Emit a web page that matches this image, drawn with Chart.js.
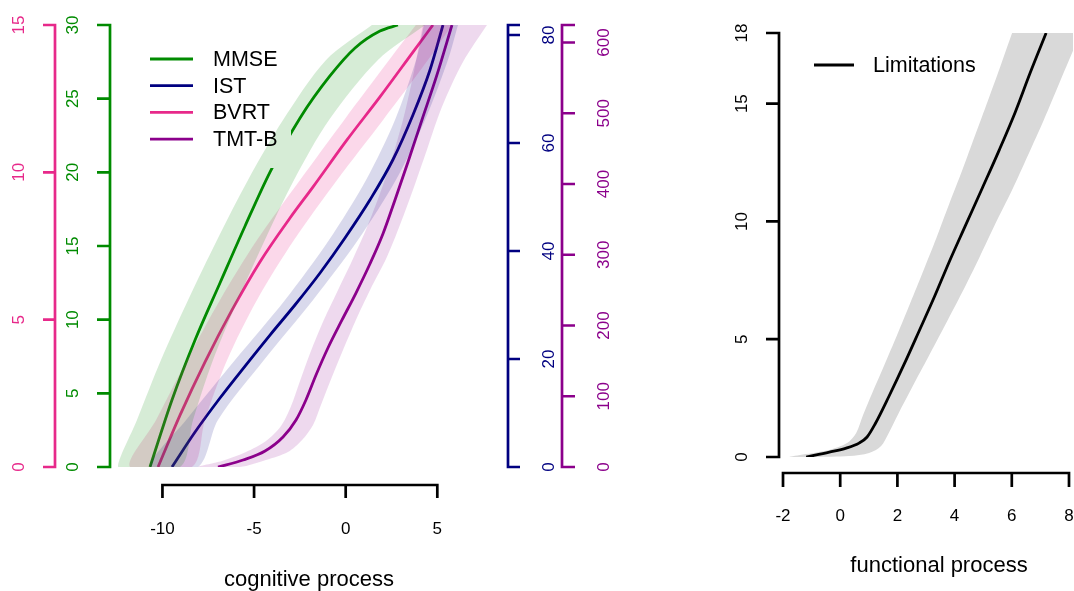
<!DOCTYPE html>
<html>
<head>
<meta charset="utf-8">
<script src="https://cdn.jsdelivr.net/npm/chart.js@4.4.1/dist/chart.umd.min.js"></script>
<style>
  html, body { margin: 0; padding: 0; background: #fff; overflow: hidden; }
  #cogBox { position: absolute; left: 0; top: 0; width: 620px; height: 591px; }
  #funBox { position: absolute; left: 620px; top: 0; width: 454px; height: 591px; }
</style>
</head>
<body>
<div id="cogBox"><canvas id="cogChart"></canvas></div>
<div id="funBox"><canvas id="funChart"></canvas></div>
<script>
// ---- left panel: latent cognitive process vs. test scores ----
const cogRange = [-12.48, 7.93];
const xTicksCog = [-10, -5, 0, 5];
const bvrtTicks = [0, 5, 10, 15];
const mmseTicks = [0, 5, 10, 15, 20, 25, 30];
const istTicks = [0, 20, 40, 60, 80];
const tmtTicks = [0, 100, 200, 300, 400, 500, 600];
const bvrtMax = 15, mmseMax = 30, istMax = 81.85, tmtMax = 624.7;

const mmseX = [-10.68, -9.48, -8.22, -6.86, -5.49, -4.13, -2.49, -0.86, 0.51, 1.87, 2.85];
const mmseY = [0, 4.55, 8.62, 12.49, 16.36, 20.02, 23.69, 26.54, 28.44, 29.59, 30];
const mmseBandY = [0, 3.19, 7.26, 11.33, 15.41, 19.48, 23.55, 27.63, 30];
const mmseBandLeft = [-12.42, -11.39, -10.08, -8.60, -7.02, -5.33, -3.42, -1.07, 1.43];
const mmseBandRight = [-9.04, -8.33, -7.24, -5.88, -4.41, -2.82, -0.91, 1.76, 4.33];

const istX = [-9.48, -8.22, -6.86, -5.49, -4.13, -2.77, -1.40, -0.04, 1.32, 2.57, 3.67, 4.6, 5.31];
const istY = [0, 6.48, 12.78, 18.70, 24.44, 30.0, 35.93, 42.41, 49.44, 56.85, 65.19, 73.52, 81.85];
const istBandY = [0, 8.70, 19.81, 30.93, 42.04, 53.15, 64.26, 75.37, 81.85];
const istBandLeft = [-10.68, -8.71, -6.04, -3.31, -0.91, 1.11, 2.69, 3.84, 4.27];
const istBandRight = [-8.06, -6.97, -4.46, -1.78, 0.67, 2.74, 4.33, 5.58, 6.13];

const bvrtX = [-10.24, -9.04, -7.68, -6.2, -4.68, -3.04, -1.79, 0.07, 1.87, 3.67, 4.76];
const bvrtY = [0, 1.76, 3.56, 5.33, 6.96, 8.45, 9.50, 11.1, 12.56, 14.08, 15.0];
const bvrtBandY = [0, 1.595, 3.63, 5.67, 7.70, 9.74, 11.77, 13.81, 15];
const bvrtBandLeft = [-11.77, -10.35, -8.66, -6.86, -4.84, -2.49, -0.09, 2.37, 3.83];
const bvrtBandRight = [-8.39, -7.68, -6.47, -4.84, -2.82, -0.47, 2.03, 4.49, 5.80];

const tmtX = [-6.97, -5.60, -4.40, -3.42, -2.71, -2.17, -1.62, -0.97, -0.20, 0.56, 1.32, 2.03, 2.69, 3.40, 4.16, 4.98, 5.80];
const tmtY = [0, 9.9, 22.6, 42.4, 66.4, 94.7, 130.0, 168.2, 207.8, 245.9, 286.9, 329.3, 377.4, 431.1, 490.5, 554.1, 624.7];
const tmtBandLeftX = [-8.06, -6.75, -5.44, -4.35, -3.53, -2.98, -2.55, -2.0, -1.29, -0.47, 0.34, 1.10, 1.82, 2.53, 3.18, 3.72, 4.21];
const tmtBandLeftY = [0, 8.5, 21.2, 36.7, 57.9, 86.2, 117.3, 156.9, 202.1, 247.3, 291.2, 335.0, 383.0, 436.7, 496.1, 558.3, 624.7];
const tmtBandRightX = [-5.77, -4.35, -3.15, -2.38, -1.78, -1.35, -0.86, -0.26, 0.51, 1.33, 2.25, 2.96, 3.67, 4.43, 5.25, 6.40, 7.71];
const tmtBandRightY = [0, 9.9, 21.2, 38.2, 59.4, 87.6, 120.1, 158.3, 205.0, 250.2, 296.8, 342.0, 391.5, 448.1, 508.8, 572.4, 624.7];

// ---- right panel: functional process vs. limitations ----
const funRange = [-2.21, 8.14];
const xTicksFun = [-2, 0, 2, 4, 6, 8];
const limTicks = [0, 5, 10, 15, 18];
const limMax = 18;
const limX = [-1.19, -0.38, 0.21, 0.66, 0.94, 1.22, 1.71, 2.24, 2.76, 3.29, 3.81, 4.37, 4.97, 5.56, 6.12, 6.64, 7.2];
const limY = [0, 0.21, 0.38, 0.59, 0.85, 1.4, 2.59, 3.95, 5.35, 6.79, 8.28, 9.8, 11.42, 13.03, 14.64, 16.3, 18.0];
const limBandLeftX = [-1.78, -0.38, 0.24, 0.56, 0.80, 1.12, 1.54, 1.99, 2.45, 2.90, 3.36, 3.81, 4.27, 4.72, 5.17, 5.59, 6.01];
const limBandLeftY = [0, 0.3, 0.59, 1.02, 1.78, 2.72, 3.9, 5.18, 6.54, 7.89, 9.29, 10.74, 12.18, 13.67, 15.15, 16.55, 18.0];
const limBandRightX = [-0.91, 0.31, 1.01, 1.43, 1.68, 2.03, 2.52, 3.08, 3.67, 4.27, 4.86, 5.42, 6.01, 6.57, 7.13, 7.66, 8.18, 8.71];
const limBandRightY = [0, 0.04, 0.17, 0.47, 0.98, 1.83, 2.97, 4.24, 5.6, 7.0, 8.45, 9.89, 11.33, 12.82, 14.34, 15.87, 17.36, 18.85];

const FONT = '"Liberation Sans", Arial, Helvetica, sans-serif';
const colors = {mmse: '#008B00', ist: '#000080', bvrt: '#E7298A', tmt: '#8B008B'};
const fills = {
    mmse: 'rgba(0,139,0,0.16)',
    ist: 'rgba(0,0,128,0.15)',
    bvrt: 'rgba(231,41,138,0.18)',
    tmt: 'rgba(139,0,139,0.15)'
};

function pts(xs, ys) {
    return xs.map((x, i) => ({x, y: ys[i]}));
}

// closed outline: down the right edge, back up the left edge;
// the closing segment runs along the top so it stays straight
function bandShape(lx, ly, rx, ry) {
    return pts(rx, ry).reverse().concat(pts(lx, ly));
}

function lineSet(data, color, axis) {
    return {
        data, yAxisID: axis, borderColor: color, borderWidth: 2.8,
        pointRadius: 0, fill: false, cubicInterpolationMode: 'monotone', order: 2
    };
}

function bandSet(data, color, axis) {
    return {
        data, yAxisID: axis, borderColor: 'rgba(0,0,0,0)', borderWidth: 0.01,
        backgroundColor: color, pointRadius: 0, fill: 'shape', tension: 0.3, order: 1
    };
}

// R-like axis drawing on top of the hidden Chart.js scales
function drawYAxis(chart, a) {
    const ctx = chart.ctx;
    const scale = chart.scales[a.scale];
    const all = a.ticks.concat(a.extra || []);
    const ys = all.map(v => scale.getPixelForValue(v));
    ctx.save();
    ctx.strokeStyle = a.color;
    ctx.lineWidth = 2.7;
    ctx.beginPath();
    ctx.moveTo(a.lineX, Math.max(...ys) + 1.35);
    ctx.lineTo(a.lineX, Math.min(...ys) - 1.35);
    ys.forEach(y => {
        ctx.moveTo(a.lineX, y);
        ctx.lineTo(a.lineX + a.tick, y);
    });
    ctx.stroke();
    ctx.fillStyle = a.color;
    ctx.font = '17px ' + FONT;
    ctx.textAlign = 'center';
    ctx.textBaseline = 'middle';
    a.ticks.forEach((v, i) => {
        ctx.save();
        ctx.translate(a.labelX, ys[i]);
        ctx.rotate(-Math.PI / 2);
        ctx.fillText(String(v), 0, 0);
        ctx.restore();
    });
    ctx.restore();
}

function drawXAxis(chart, a) {
    const ctx = chart.ctx;
    const scale = chart.scales.x;
    const xs = a.ticks.map(v => scale.getPixelForValue(v));
    ctx.save();
    ctx.strokeStyle = '#000';
    ctx.lineWidth = 2.7;
    ctx.beginPath();
    ctx.moveTo(xs[0] - 1.35, a.lineY);
    ctx.lineTo(xs[xs.length - 1] + 1.35, a.lineY);
    xs.forEach(x => {
        ctx.moveTo(x, a.lineY);
        ctx.lineTo(x, a.lineY + a.tick);
    });
    ctx.stroke();
    ctx.fillStyle = '#000';
    ctx.font = '17px ' + FONT;
    ctx.textAlign = 'center';
    ctx.textBaseline = 'middle';
    a.ticks.forEach((v, i) => ctx.fillText(String(v), xs[i], a.labelY));
    ctx.font = '22px ' + FONT;
    ctx.fillText(a.title, a.titleX, a.titleY);
    ctx.restore();
}

function drawLegend(ctx, items, lx0, lx1, tx, y0, step) {
    ctx.save();
    ctx.font = '21.5px ' + FONT;
    ctx.textAlign = 'left';
    ctx.textBaseline = 'middle';
    items.forEach((it, i) => {
        const y = y0 + i * step;
        ctx.strokeStyle = it.color;
        ctx.lineWidth = 2.8;
        ctx.beginPath();
        ctx.moveTo(lx0, y);
        ctx.lineTo(lx1, y);
        ctx.stroke();
        ctx.fillStyle = '#000';
        ctx.fillText(it.label, tx, y + 1);
    });
    ctx.restore();
}

const cogAxes = {
    id: 'cogAxes',
    afterDatasetDraw(chart, args) {
        // legend background sits above the curves but under the bands
        if (args.index === 0) {
            chart.ctx.save();
            chart.ctx.fillStyle = '#fff';
            chart.ctx.fillRect(140, 44, 151, 124);
            chart.ctx.restore();
        }
    },
    afterDraw(chart) {
        drawYAxis(chart, {scale: 'yBvrt', ticks: bvrtTicks, color: colors.bvrt, lineX: 55, tick: -12, labelX: 19});
        drawYAxis(chart, {scale: 'yMmse', ticks: mmseTicks, color: colors.mmse, lineX: 110, tick: -13, labelX: 73});
        drawYAxis(chart, {scale: 'yIst', ticks: istTicks, extra: [istMax], color: colors.ist, lineX: 508, tick: 12, labelX: 549});
        drawYAxis(chart, {scale: 'yTmt', ticks: tmtTicks, extra: [tmtMax], color: colors.tmt, lineX: 562, tick: 13, labelX: 604});
        drawXAxis(chart, {ticks: xTicksCog, lineY: 485, tick: 13, labelY: 529,
            title: 'cognitive process', titleX: 309, titleY: 580});
        drawLegend(chart.ctx, [
            {label: 'MMSE', color: colors.mmse},
            {label: 'IST', color: colors.ist},
            {label: 'BVRT', color: colors.bvrt},
            {label: 'TMT-B', color: colors.tmt}
        ], 150, 193, 213, 59, 26.7);
    }
};

const funAxes = {
    id: 'funAxes',
    afterDraw(chart) {
        drawYAxis(chart, {scale: 'y', ticks: limTicks, color: '#000', lineX: 159, tick: -13, labelX: 122});
        drawXAxis(chart, {ticks: xTicksFun, lineY: 473, tick: 14, labelY: 516,
            title: 'functional process', titleX: 319, titleY: 566});
        drawLegend(chart.ctx, [{label: 'Limitations', color: '#000'}], 194, 234, 253, 65, 0);
    }
};

const hidden = (min, max) => ({type: 'linear', min, max, display: false});

new Chart(document.getElementById('cogChart'), {
    type: 'line',
    data: {
        datasets: [
            lineSet(pts(mmseX, mmseY), colors.mmse, 'yMmse'),
            lineSet(pts(istX, istY), colors.ist, 'yIst'),
            lineSet(pts(bvrtX, bvrtY), colors.bvrt, 'yBvrt'),
            lineSet(pts(tmtX, tmtY), colors.tmt, 'yTmt'),
            bandSet(bandShape(mmseBandLeft, mmseBandY, mmseBandRight, mmseBandY), fills.mmse, 'yMmse'),
            bandSet(bandShape(istBandLeft, istBandY, istBandRight, istBandY), fills.ist, 'yIst'),
            bandSet(bandShape(bvrtBandLeft, bvrtBandY, bvrtBandRight, bvrtBandY), fills.bvrt, 'yBvrt'),
            bandSet(bandShape(tmtBandLeftX, tmtBandLeftY, tmtBandRightX, tmtBandRightY), fills.tmt, 'yTmt')
        ]
    },
    options: {
        responsive: true,
        maintainAspectRatio: false,
        animation: false,
        events: [],
        layout: {padding: {left: 117, right: 129, top: 25, bottom: 124}},
        scales: {
            x: hidden(cogRange[0], cogRange[1]),
            yBvrt: hidden(0, bvrtMax),
            yMmse: hidden(0, mmseMax),
            yIst: hidden(0, istMax),
            yTmt: hidden(0, tmtMax)
        },
        plugins: {legend: {display: false}, tooltip: {enabled: false}}
    },
    plugins: [cogAxes]
});

new Chart(document.getElementById('funChart'), {
    type: 'line',
    data: {
        datasets: [
            lineSet(pts(limX, limY), '#000', 'y'),
            Object.assign(bandSet(bandShape(limBandLeftX, limBandLeftY, limBandRightX, limBandRightY), '#D9D9D9', 'y'), {order: 3})
        ]
    },
    options: {
        responsive: true,
        maintainAspectRatio: false,
        animation: false,
        events: [],
        layout: {padding: {left: 157, right: 1, top: 33, bottom: 134}},
        scales: {
            x: hidden(funRange[0], funRange[1]),
            y: hidden(0, limMax)
        },
        plugins: {legend: {display: false}, tooltip: {enabled: false}}
    },
    plugins: [funAxes]
});
</script>
</body>
</html>
